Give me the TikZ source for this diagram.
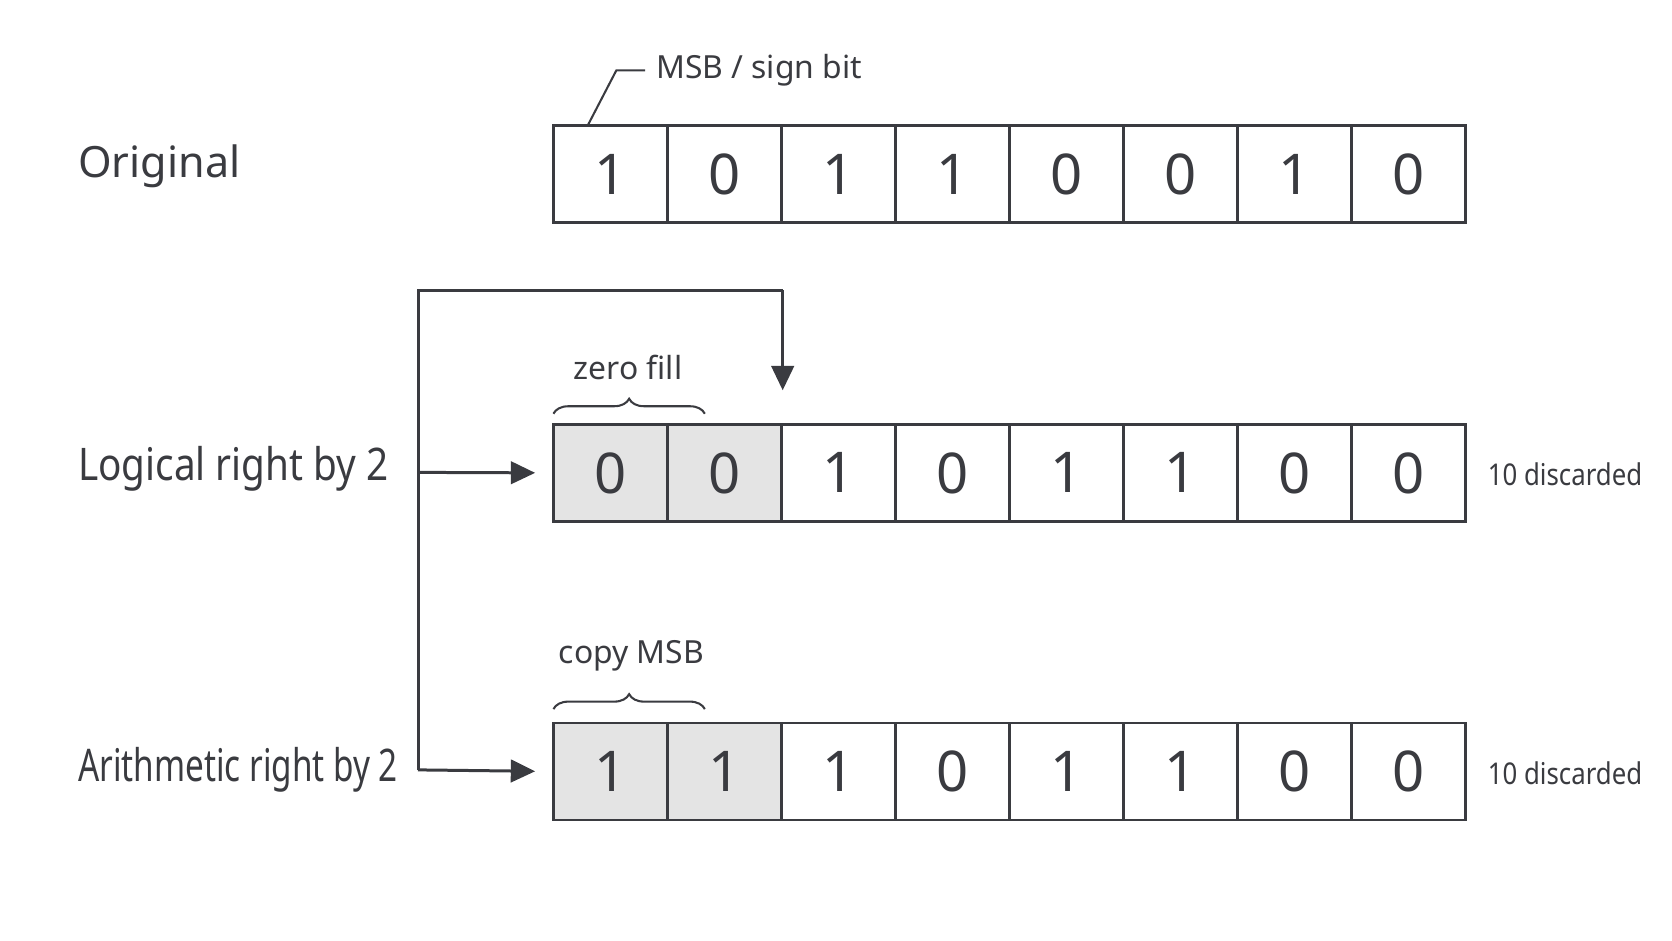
\documentclass[tikz,border=0pt]{standalone}
\usepackage{fontspec}
\setmainfont{Noto Sans}
\newfontfamily\cond[FakeStretch=0.86]{Noto Sans}
\newfontfamily\condb[FakeStretch=0.74]{Noto Sans}
\usetikzlibrary{arrows.meta,decorations.pathreplacing}
\definecolor{ink}{HTML}{3A3B40}
\definecolor{sh}{HTML}{E4E4E4}
\begin{document}
\begin{tikzpicture}[x=0.02cm,y=-0.02cm,
 cell/.style={draw=ink,line width=1.5pt,minimum width=106.9*0.02cm,minimum height=91*0.02cm,inner sep=0,text=ink,font=\fontsize{30}{30}\selectfont},
 lab/.style={text=ink,font=\cond\fontsize{24}{24}\selectfont,anchor=west,inner sep=0},
 small/.style={text=ink,font=\fontsize{15}{15}\selectfont,inner sep=0},
 con/.style={draw=ink,line width=1.6pt},
 arr/.style={con,-{Triangle[length=13pt,width=12pt]}},
 br/.style={con,line width=1.1pt,decorate,decoration={brace,amplitude=8pt}}]
\useasboundingbox (0,0) rectangle (1568,882);
\def\row#1#2#3#4{\foreach \v [count=\i] in {#2} {
  \ifnum\i<3 \def\f{#4}\else\def\f{white}\fi
  \node[cell,fill=\f] (#1\i) at ({519+106.9*(\i-0.5)},#3) {\v};}}
\row{o}{1,0,1,1,0,0,1,0}{163.5}{white}
\row{l}{0,0,1,0,1,1,0,0}{443.5}{sh}
\row{a}{1,1,1,0,1,1,0,0}{723.5}{sh}
\node[lab,font=\fontsize{23}{23}\selectfont] (to) at (73,156) {Original};
\node[lab] (tl) at (73,440) {Logical right by 2};
\node[lab,font=\condb\fontsize{24}{24}\selectfont] (ta) at (73,722) {Arithmetic right by 2};
\node[small,font=\fontsize{17}{17}\selectfont,anchor=west] (msb) at (615,66) {MSB / sign bit};
\coordinate (m1) at (578,66);
\coordinate (m2) at (605,66);
\draw[con,line width=1.1pt] (o1.north west)++(34,0) -- (m1) -- (m2);
\node[small,font=\cond\fontsize{16}{16}\selectfont,anchor=west] (d1) at (1395,445) {10 discarded};
\node[small,font=\cond\fontsize{16}{16}\selectfont,anchor=west] (d2) at (1395,725) {10 discarded};
\node[small,font=\fontsize{17}{17}\selectfont] (zf) at (589,345) {zero fill};
\node[small,font=\fontsize{17}{17}\selectfont] (cm) at (592,615) {copy MSB};
\draw[br] (519,388) -- (661,388);
\draw[br] (519,665) -- (661,665);
\coordinate (c0) at (392,722);
\coordinate (c1) at (392,272);
\coordinate (c2) at (734,272);
\coordinate (c3) at (392,443);
\draw[con] (c0) -- (c1) -- (c2);
\draw[arr] (c2) -- (734,366);
\draw[arr,shorten >=9pt] (c3) -- (l1.west);
\draw[arr,shorten >=9pt] (c0) -- (a1.west);
\end{tikzpicture}
\end{document}
